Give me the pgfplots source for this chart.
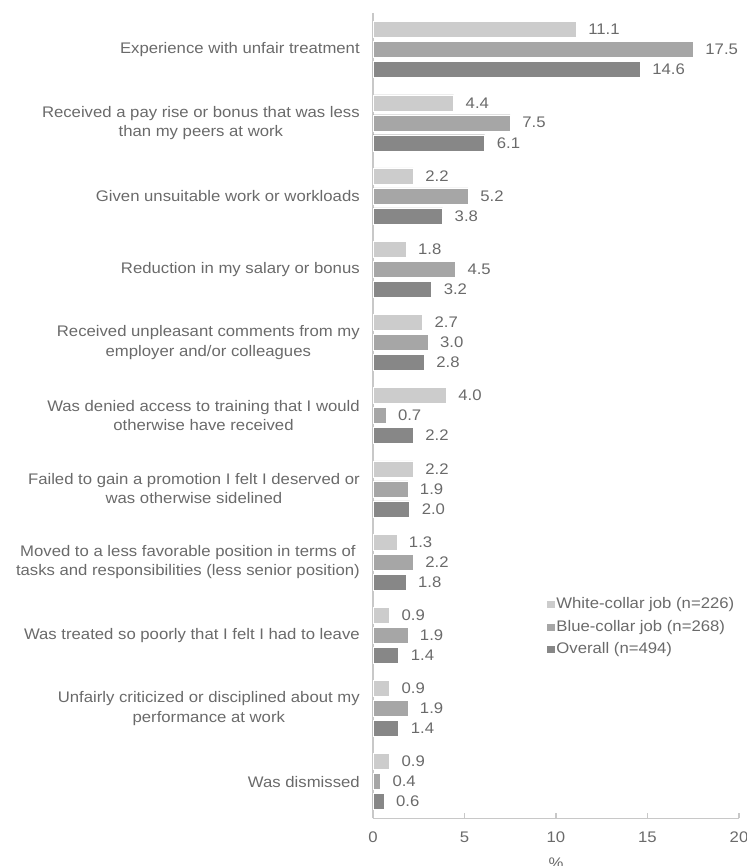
\documentclass[border=0pt]{standalone}
\usepackage{pgfplots}
\pgfplotsset{compat=1.18}
\usepackage{fontspec}
\setmainfont{Liberation Sans}[FakeStretch=1.09]
\definecolor{cW}{HTML}{CCCCCC}
\definecolor{cB}{HTML}{A6A6A6}
\definecolor{cO}{HTML}{878787}
\definecolor{txt}{HTML}{6A6A6A}
\definecolor{axl}{HTML}{C8C8C8}
\newcommand{\ff}{\fontsize{11.5}{14.5}\selectfont}
\begin{document}
\begin{tikzpicture}
\begin{axis}[
  at={(0,0)}, anchor=south west,
  scale only axis,
  width=274.5pt, height=604pt,
  xbar, bar width=0.2186,
  y dir=reverse,
  xmin=0, xmax=20,
  ymin=-0.5, ymax=10.5,
  axis lines*=left,
  axis line style={axl, line width=0.8pt},
  xtick={0,5,10,15,20},
  xtick pos=bottom,
  xtick align=inside,
  major tick length=3.75pt,
  xtick style={axl, line width=0.8pt},
  ytick={0,...,10},
  ytick style={draw=none},
  yticklabels={
    {Experience with unfair treatment},
    {Received a pay rise or bonus that was less\\than my peers at work},
    {Given unsuitable work or workloads},
    {Reduction in my salary or bonus},
    {Received unpleasant comments from my\\employer and/or colleagues},
    {Was denied access to training that I would\\otherwise have received},
    {Failed to gain a promotion I felt I deserved or\\was otherwise sidelined},
    {Moved to a less favorable position in terms of\\tasks and responsibilities (less senior position)},
    {Was treated so poorly that I felt I had to leave},
    {Unfairly criticized or disciplined about my\\performance at work},
    {Was dismissed}},
  yticklabel style={align=center, font=\ff, text=txt, inner sep=0pt, xshift=-6pt},
  xticklabel style={font=\ff, text=txt, inner sep=0pt, yshift=-10pt},
  /pgf/number format/assume math mode=true,
  xlabel={\%},
  xlabel style={font=\ff, text=txt, at={(axis description cs:0.5,0)}, anchor=center, yshift=-34pt},
  nodes near coords={\pgfmathprintnumber[fixed, fixed zerofill, precision=1]{\pgfplotspointmeta}},
  nodes near coords style={font=\ff, text=txt, anchor=west, inner sep=0pt, xshift=9pt},
  legend image code/.code={\fill[#1] (0pt,-3pt) rectangle (6.5pt,3pt);},
  legend style={draw=none, fill=none, at={(0.461,0.279)}, anchor=north west,
    font=\ff, text=txt, row sep=5pt,
    nodes={inner sep=1pt}},
  legend cell align=left,
]
\addplot[fill=cW, draw=white, line width=0.3pt, bar shift=-0.2732] coordinates {
(11.1,0) (4.4,1) (2.2,2) (1.8,3) (2.7,4) (4.0,5) (2.2,6) (1.3,7) (0.9,8) (0.9,9) (0.9,10)};
\addplot[fill=cB, draw=white, line width=0.3pt, bar shift=0] coordinates {
(17.5,0) (7.5,1) (5.2,2) (4.5,3) (3.0,4) (0.7,5) (1.9,6) (2.2,7) (1.9,8) (1.9,9) (0.4,10)};
\addplot[fill=cO, draw=white, line width=0.3pt, bar shift=0.2732] coordinates {
(14.6,0) (6.1,1) (3.8,2) (3.2,3) (2.8,4) (2.2,5) (2.0,6) (1.8,7) (1.4,8) (1.4,9) (0.6,10)};
\legend{White-collar job (n=226), Blue-collar job (n=268), Overall (n=494)}
\end{axis}
\pgfresetboundingbox
\useasboundingbox (-279.75pt,-35.8pt) rectangle (279.75pt,613.7pt);
\end{tikzpicture}
\end{document}
